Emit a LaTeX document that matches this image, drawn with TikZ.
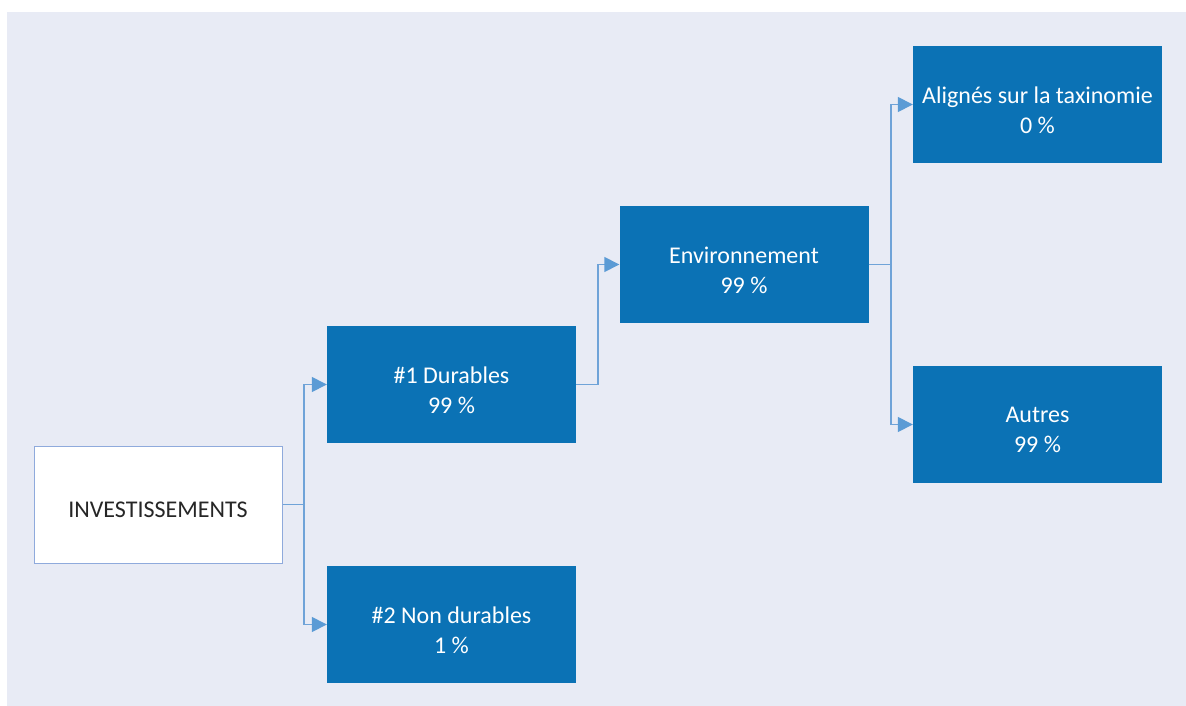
\documentclass[tikz,border=0pt]{standalone}
\usepackage{fontspec}
\setmainfont{Carlito}
\usetikzlibrary{arrows.meta}
\definecolor{bgc}{HTML}{E8EBF5}
\definecolor{boxc}{HTML}{0B72B5}
\definecolor{linec}{HTML}{6FA3D8}
\definecolor{tipc}{HTML}{5B9BD5}
\definecolor{borderc}{HTML}{8FAADC}
\definecolor{txtc}{HTML}{262626}
\tikzset{
  boxtext/.style={inner sep=0pt, align=center, yshift=-5.5pt, font=\fontsize{24pt}{30pt}\selectfont},
  bluebox/.style={fill=boxc, draw=none, minimum width=249pt, minimum height=117pt, inner sep=0pt,
    label={[boxtext,text=white]center:#1}},
  whitebox/.style={fill=white, draw=borderc, line width=1pt, minimum width=248pt, minimum height=117pt, inner sep=0pt,
    label={[boxtext,text=txtc]center:#1}},
  conn/.style={draw=linec, line width=1.5pt, -{Triangle[length=15pt,width=15pt,fill=tipc,color=tipc]}},
  plain/.style={draw=linec, line width=1.5pt}
}
\begin{document}
\begin{tikzpicture}[x=1pt,y=-1pt]
\useasboundingbox (0,0) rectangle (1186,706);
\fill[bgc] (7,12) rectangle (1186,706);
\node[whitebox={INVESTISSEMENTS}] (inv) at (158,504.5) {};
\node[bluebox={\#1 Durables\\99 \%}] (dur) at (451.5,384.5) {};
\node[bluebox={\#2 Non durables\\1 \%}] (ndur) at (451.5,624.5) {};
\node[bluebox={Environnement\\99 \%}] (env) at (744,264.5) {};
\node[bluebox={Alignés sur la taxinomie\\0 \%}] (ali) at (1037.5,104.5) {};
\node[bluebox={Autres\\99 \%}] (aut) at (1037.5,424.5) {};
\coordinate (j1) at (304,504.5);
\coordinate (j2) at (598,384.5);
\coordinate (j3) at (891,264.5);
\draw[plain] (inv.east) -- (j1);
\draw[conn] (j1) |- (dur.west);
\draw[conn] (j1) |- (ndur.west);
\draw[conn] (dur.east) -| (j2) |- (env.west);
\draw[plain] (env.east) -- (j3);
\draw[conn] (j3) |- (ali.west);
\draw[conn] (j3) |- (aut.west);
\end{tikzpicture}
\end{document}
